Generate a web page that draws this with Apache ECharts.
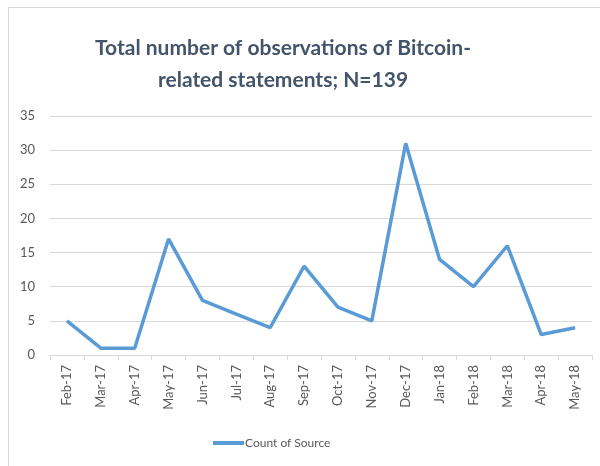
<!DOCTYPE html>
<html><head><meta charset="utf-8">
<script src="https://cdn.jsdelivr.net/npm/echarts@6/dist/echarts.min.js"></script>
<style>html,body{margin:0;padding:0;background:#fff}#c{width:600px;height:466px}</style>
</head><body><div id="c"></div>
<script>
const categories = ['Feb-17','Mar-17','Apr-17','May-17','Jun-17','Jul-17','Aug-17','Sep-17','Oct-17','Nov-17','Dec-17','Jan-18','Feb-18','Mar-18','Apr-18','May-18'];
const countOfSource = [5,1,1,17,8,6,4,13,7,5,31,14,10,16,3,4];
const yTicks = [0,5,10,15,20,25,30,35];

const chart = echarts.init(document.getElementById('c'));
chart.setOption({
  animation: false,
  graphic: [{type:'rect', shape:{x:8.5,y:7.5,width:600,height:470}, style:{fill:'none', stroke:'#d9d9d9', lineWidth:1}}],
  title: {
    text: 'Total number of observations of Bitcoin-\nrelated statements; N=139',
    left: 278, top: 27, textAlign: 'center',
    textStyle: {fontFamily:'Lato', fontWeight:'bold', fontSize:21, color:'#44546a', lineHeight:32}
  },
  legend: {
    top: 432, left: 208,
    itemWidth: 31, itemHeight: 4, itemGap: 0,
    icon: 'rect',
    textStyle: {fontFamily:'Lato', fontSize:12, color:'#595959', padding:[0,0,0,-4]},
    data: ['Count of Source']
  },
  grid: {left: 50, right: 8, top: 116, bottom: 111},
  xAxis: {
    type: 'category', data: categories, boundaryGap: true,
    axisLine: {lineStyle:{color:'#d9d9d9'}},
    axisTick: {show:true, lineStyle:{color:'#d9d9d9'}, length:5},
    axisLabel: {rotate: 90, fontFamily:'Lato', fontSize:13, color:'#595959', margin:10, interval:0}
  },
  yAxis: {
    type: 'value', min: yTicks[0], max: yTicks[yTicks.length-1], interval: 5,
    axisLine: {show:false}, axisTick: {show:false},
    splitLine: {lineStyle:{color:'#d9d9d9'}},
    axisLabel: {fontFamily:'Lato', fontSize:13, color:'#595959', margin:15}
  },
  series: [{
    name: 'Count of Source', type: 'line', data: countOfSource,
    symbol: 'none', lineStyle: {width: 3.5, color:'#5b9bd5'}, itemStyle:{color:'#5b9bd5'}
  }]
});
</script></body></html>
